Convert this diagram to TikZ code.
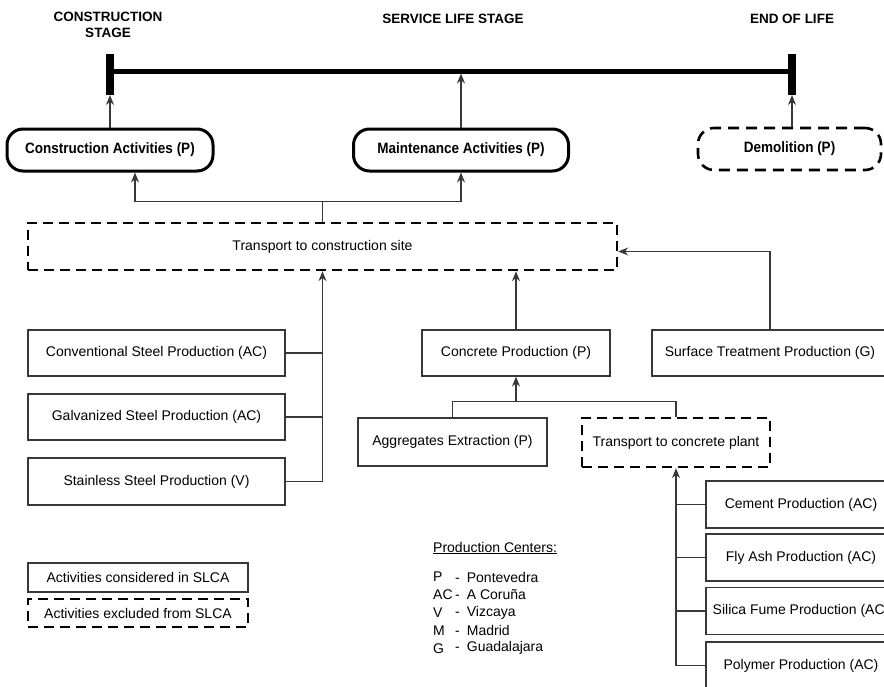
\documentclass[tikz,border=0pt]{standalone}
\usepackage{fontspec}
\setmainfont{Liberation Sans}
\newfontfamily\pillfont[FakeStretch=0.9]{Liberation Sans}
\usetikzlibrary{arrows.meta,positioning}
\definecolor{myline}{gray}{0.22}

\tikzset{
  txt/.style={font=\fontsize{14}{16}\selectfont},
  act/.style={txt, draw=myline, line width=1.2pt, minimum height=46pt, inner sep=0pt},
  excl/.style={txt, draw=black, line width=2.4pt, dash pattern=on 10pt off 6pt, minimum height=47pt, inner sep=0pt},
  stage/.style={draw=black, line width=3pt, rounded corners=16pt, minimum height=42pt, inner sep=0pt, font=\pillfont\bfseries\fontsize{15}{17}\selectfont},
  xstage/.style={stage, line width=2.6pt, dash pattern=on 11pt off 7pt},
  head/.style={font=\bfseries\fontsize{13.5}{16}\selectfont, align=center},
  conn/.style={draw=myline, line width=1.2pt},
  arr/.style={conn, -{Stealth[length=10pt,width=8pt]}},
}

\begin{document}
\begin{tikzpicture}[x=1pt,y=-1pt]
    \clip (0,0) rectangle (884,686);

    % timeline
    \node[head] (hcs) at (108,25) {CONSTRUCTION\\STAGE};
    \node[head] (hsl) at (453,19) {SERVICE LIFE STAGE};
    \node[head] (hel) at (792,19) {END OF LIFE};
    \coordinate (tlA) at (110,71);
    \coordinate (tlB) at (792,71);
    \coordinate (tkL) at (110,95);
    \coordinate (tkR) at (792,95);
    \draw[line width=5pt] (tlA) -- (tlB);
    \draw[line width=8pt] (110,54) -- (tkL);
    \draw[line width=8pt] (792,54) -- (tkR);

    % stages
    \node[stage, minimum width=206pt] (ca) at (110,150) {Construction Activities (P)};
    \node[stage, minimum width=215pt] (ma) at (461,150) {Maintenance Activities (P)};
    \node[xstage, minimum width=183pt] (dm) at (789.5,149) {Demolition (P)};
    \draw[arr] (ca.north) -- (tkL);
    \draw[arr] (ma.north) -- (ma.north |- 0,73.5);
    \draw[arr] (dm.north -| tkR) -- (tkR);

    % transport to site
    \node[excl, minimum width=589pt] (tc) at (322.5,246.5) {Transport to construction site};
    \draw[conn] (tc.north) -- ++(0,-20) coordinate (jn);
    \draw[arr] (jn) -| ([xshift=25pt]ca.south);
    \draw[arr] (jn) -| (ma.south);

    % steel
    \node[act, minimum width=257pt] (cs) at (156.5,353) {Conventional Steel Production (AC)};
    \node[act, minimum width=257pt] (gs) at (156.5,417) {Galvanized Steel Production (AC)};
    \node[act, minimum width=257pt, minimum height=47pt] (ss) at (156.5,481.5) {Stainless Steel Production (V)};
    \draw[arr] (ss.east) -| (tc.south);
    \draw[conn] (cs.east) -- (cs.east -| tc.south);
    \draw[conn] (gs.east) -- (gs.east -| tc.south);

    % concrete
    \node[act, minimum width=188pt] (cp) at (516,353) {Concrete Production (P)};
    \node[act, minimum width=236pt] (st) at (770,353) {Surface Treatment Production (G)};
    \draw[arr] (cp.north) -- (cp.north |- tc.south);
    \draw[arr] (st.north) |- ([yshift=-5pt]tc.east);

    \node[act, minimum width=189pt, minimum height=48pt] (ag) at (452.5,442) {Aggregates Extraction (P)};
    \node[excl, minimum width=188pt, minimum height=49pt] (tp) at (676,442.5) {Transport to concrete plant};
    \draw[conn] (ag.north) -- ++(0,-16) coordinate (ja) -| (tp.north);
    \draw[arr] (ja -| cp.south) -- (cp.south);

    % binder materials
    \foreach \n/\y/\t in {ce/504.5/Cement Production (AC), fa/557.5/Fly Ash Production (AC),
                          sf/611/Silica Fume Production (AC), pp/665.5/Polymer Production (AC)}
        \node[act, minimum width=190pt, minimum height=47pt] (\n) at (801,\y) {\t};
    \draw[arr] (pp.west) -| (tp.south);
    \foreach \n in {ce,fa,sf}
        \draw[conn] (\n.west) -- (\n.west -| tp.south);

    % legend
    \node[act, minimum width=220pt, minimum height=29pt] (lg1) at (138,577.5) {Activities considered in SLCA};
    \node[excl, minimum width=220pt, minimum height=28pt] (lg2) at (138,613) {Activities excluded from SLCA};

    \node[txt, anchor=west, inner sep=0pt] (pch) at (433,548) {\underline{Production Centers:}};
    \foreach \c/\p [count=\i] in {P/Pontevedra, AC/A Coruña, V/Vizcaya, M/Madrid, G/Guadalajara} {
        \node[txt, anchor=west, inner sep=0pt] (pc\i) at (433,559.2+17.8*\i) {\c};
        \node[txt, anchor=west, inner sep=0pt] (pn\i) at (455,559.2+17.8*\i) {-\hspace{7pt}\p};
    }
\end{tikzpicture}
\end{document}
